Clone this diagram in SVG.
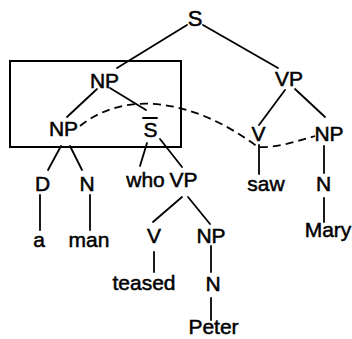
<svg xmlns="http://www.w3.org/2000/svg" width="352" height="339" viewBox="0 0 352 339">
  <style>
    .lbl { font-family: "Liberation Sans", Arial, sans-serif; font-size: 21px; fill: #000; stroke: #000; stroke-width: 0.5; text-anchor: middle; }
    .edge { stroke: #000; stroke-width: 1.8; fill: none; stroke-linecap: round; }
    .dash { stroke: #000; stroke-width: 1.8; fill: none; stroke-dasharray: 8 5; }
    .frame { stroke: #000; stroke-width: 2; fill: none; }
  </style>

  <!-- bracketing box around the subject noun phrase -->
  <rect class="frame" x="10" y="61" width="171" height="86"/>

  <g id="connectors">
    <line class="edge" x1="187" y1="25" x2="117" y2="68"/>
    <line class="edge" x1="203" y1="25" x2="278" y2="68"/>
    <line class="edge" x1="97" y1="89" x2="67" y2="117"/>
    <line class="edge" x1="110" y1="88" x2="146" y2="110"/>
    <line class="edge" x1="61" y1="146" x2="48" y2="170"/>
    <line class="edge" x1="70" y1="146" x2="82" y2="170"/>
    <line class="edge" x1="147" y1="143" x2="140" y2="166"/>
    <line class="edge" x1="160" y1="139" x2="182" y2="167"/>
    <line class="edge" x1="182" y1="197" x2="153" y2="222"/>
    <line class="edge" x1="188" y1="197" x2="210" y2="224"/>
    <line class="edge" x1="40" y1="195" x2="40" y2="230"/>
    <line class="edge" x1="90" y1="195" x2="90" y2="230"/>
    <line class="edge" x1="154" y1="252" x2="154" y2="272"/>
    <line class="edge" x1="211" y1="246" x2="211" y2="272"/>
    <line class="edge" x1="211" y1="298" x2="211" y2="320"/>
    <line class="edge" x1="285" y1="90" x2="259" y2="125"/>
    <line class="edge" x1="295" y1="89" x2="325" y2="117"/>
    <line class="edge" x1="259" y1="145" x2="259" y2="174"/>
    <line class="edge" x1="324" y1="146" x2="324" y2="173"/>
    <line class="edge" x1="324" y1="198" x2="324" y2="222"/>
    <!-- dashed link from the head noun phrase to the object position -->
    <path class="dash" d="M 80 126 C 125 90, 192 98, 258 147 C 275 148, 295 142, 315 136"/>
  </g>

  <g id="n-s"><text class="lbl" x="195" y="26" style="font-size:22px">S</text></g>
  <g id="n-np-top"><text class="lbl" x="104.5" y="88">NP</text></g>
  <g id="n-np-head"><text class="lbl" x="63.5" y="136">NP</text></g>
  <g id="n-sbar">
    <text class="lbl" x="150.5" y="137">S</text>
    <line class="edge" x1="143" y1="118" x2="157" y2="118"/>
  </g>
  <g id="n-vp-main"><text class="lbl" x="289" y="86">VP</text></g>
  <g id="n-v-main"><text class="lbl" x="258.5" y="141">V</text></g>
  <g id="n-np-obj"><text class="lbl" x="329" y="141">NP</text></g>
  <g id="n-d"><text class="lbl" x="42.5" y="191">D</text></g>
  <g id="n-n-man"><text class="lbl" x="87" y="191">N</text></g>
  <g id="n-who"><text class="lbl" x="145.5" y="187">who</text></g>
  <g id="n-vp-rel"><text class="lbl" x="183.5" y="187">VP</text></g>
  <g id="n-a"><text class="lbl" x="39" y="247">a</text></g>
  <g id="n-man"><text class="lbl" x="89" y="247">man</text></g>
  <g id="n-v-rel"><text class="lbl" x="154" y="243">V</text></g>
  <g id="n-teased"><text class="lbl" x="144" y="290">teased</text></g>
  <g id="n-np-rel"><text class="lbl" x="211" y="243">NP</text></g>
  <g id="n-n-peter"><text class="lbl" x="213" y="291">N</text></g>
  <g id="n-peter"><text class="lbl" x="213.5" y="334">Peter</text></g>
  <g id="n-saw"><text class="lbl" x="266" y="191">saw</text></g>
  <g id="n-n-mary"><text class="lbl" x="323.5" y="191">N</text></g>
  <g id="n-mary"><text class="lbl" x="328" y="237">Mary</text></g>
</svg>
